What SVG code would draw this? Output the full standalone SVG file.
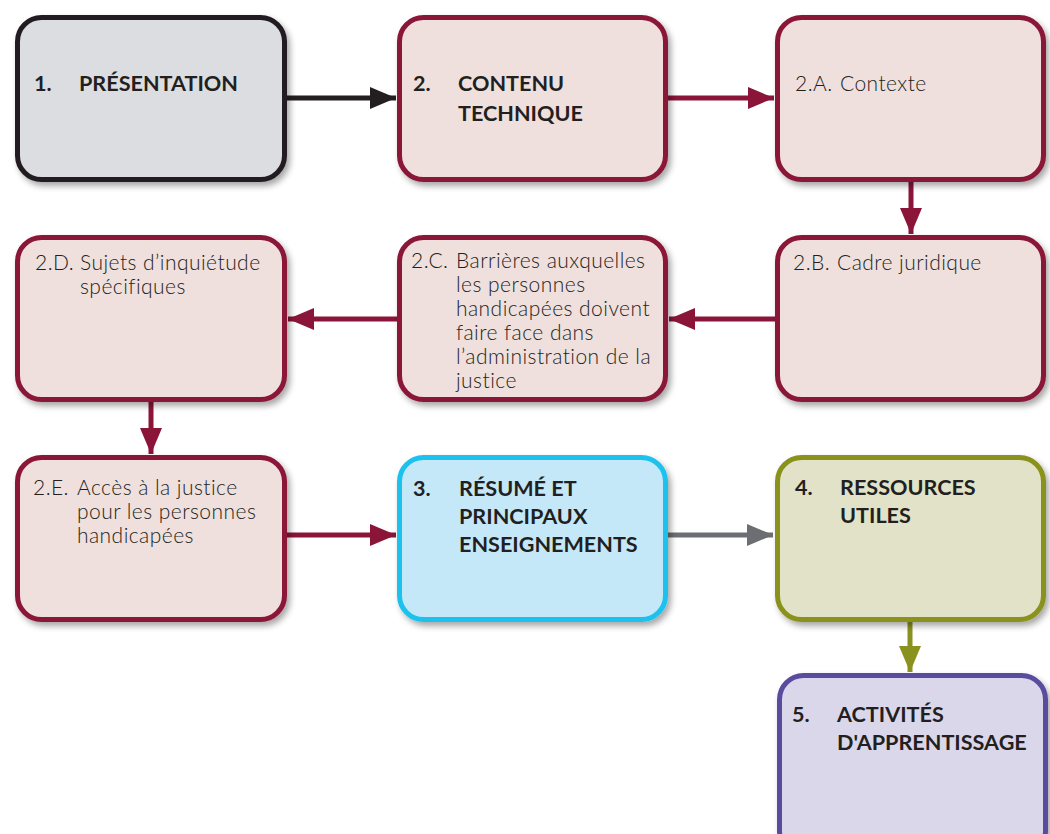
<svg xmlns="http://www.w3.org/2000/svg" width="1050" height="834" viewBox="0 0 1050 834">
  <defs>
    <filter id="shadow" x="-10%" y="-10%" width="125%" height="130%">
      <feDropShadow dx="3" dy="4" stdDeviation="3" flood-color="#000" flood-opacity="0.35"/>
    </filter>
    <marker id="head-black" viewBox="0 0 26 22" refX="26" refY="11" markerWidth="26" markerHeight="22" markerUnits="userSpaceOnUse" orient="auto">
      <path d="M0,0 L26,11 L0,22 z" fill="#231f20"/>
    </marker>
    <marker id="head-maroon" viewBox="0 0 26 22" refX="26" refY="11" markerWidth="26" markerHeight="22" markerUnits="userSpaceOnUse" orient="auto">
      <path d="M0,0 L26,11 L0,22 z" fill="#8a1538"/>
    </marker>
    <marker id="head-gray" viewBox="0 0 26 22" refX="26" refY="11" markerWidth="26" markerHeight="22" markerUnits="userSpaceOnUse" orient="auto">
      <path d="M0,0 L26,11 L0,22 z" fill="#6d6e71"/>
    </marker>
    <marker id="head-olive" viewBox="0 0 26 22" refX="26" refY="11" markerWidth="26" markerHeight="22" markerUnits="userSpaceOnUse" orient="auto">
      <path d="M0,0 L26,11 L0,22 z" fill="#8a921f"/>
    </marker>
  </defs>
  <style>
    .box { stroke-width: 5; filter: url(#shadow); }
    .intro { fill: #dcdde0; stroke: #231f20; }
    .content { fill: #efdfdd; stroke: #8a1538; }
    .summary { fill: #c4e8f8; stroke: #1fc1ee; }
    .resources { fill: #e1e2c7; stroke: #8a921f; }
    .activities { fill: #dbd7ea; stroke: #5a4c9f; }
    .title { font-family: Lato, "Open Sans", "Liberation Sans", sans-serif; font-weight: 700; font-size: 21.6px; fill: #231f20; }
    .item { font-family: Lato, "Open Sans", "Liberation Sans", sans-serif; font-weight: 300; font-size: 21px; letter-spacing: 0.45px; fill: #231f20; }
    .link { fill: none; stroke-width: 5; }
    .black { stroke: #231f20; marker-end: url(#head-black); }
    .maroon { stroke: #8a1538; marker-end: url(#head-maroon); }
    .gray { stroke: #6d6e71; marker-end: url(#head-gray); }
    .olive { stroke: #8a921f; marker-end: url(#head-olive); }
  </style>

  <rect width="1050" height="834" fill="#ffffff"/>

  <!-- connectors -->
  <g id="connectors">
    <line class="link black" x1="287" y1="98" x2="396" y2="98"/>
    <line class="link maroon" x1="668" y1="98" x2="774" y2="98"/>
    <line class="link maroon" x1="911" y1="182" x2="911" y2="234"/>
    <line class="link maroon" x1="775" y1="319" x2="669" y2="319"/>
    <line class="link maroon" x1="397" y1="319" x2="288" y2="319"/>
    <line class="link maroon" x1="151" y1="402" x2="151" y2="454"/>
    <line class="link maroon" x1="287" y1="535" x2="396" y2="535"/>
    <line class="link gray" x1="668" y1="535" x2="773" y2="535"/>
    <line class="link olive" x1="910" y1="622" x2="910" y2="672"/>
  </g>

  <!-- row 1 -->
  <g id="node-1">
    <rect class="box intro" x="17.5" y="17.5" width="267" height="162" rx="24"/>
    <text class="title" x="34" y="91">1.</text>
    <text class="title" x="79" y="91">PRÉSENTATION</text>
  </g>
  <g id="node-2">
    <rect class="box content" x="399.5" y="17.5" width="266" height="162" rx="24"/>
    <text class="title" x="413" y="91">2.</text>
    <text class="title" x="458" y="91">CONTENU</text>
    <text class="title" x="458" y="121">TECHNIQUE</text>
  </g>
  <g id="node-2a">
    <rect class="box content" x="777.5" y="17.5" width="266" height="162" rx="24"/>
    <text class="item" x="795" y="91">2.A.</text>
    <text class="item" x="840" y="91">Contexte</text>
  </g>

  <!-- row 2 -->
  <g id="node-2d">
    <rect class="box content" x="17.5" y="237.5" width="267" height="162" rx="24"/>
    <text class="item" x="35" y="270">2.D.</text>
    <text class="item" x="80" y="270">Sujets d’inquiétude</text>
    <text class="item" x="80" y="294">spécifiques</text>
  </g>
  <g id="node-2c">
    <rect class="box content" x="399.5" y="237.5" width="266" height="162" rx="24"/>
    <text class="item" x="411" y="268">2.C.</text>
    <text class="item" x="456" y="268">Barrières auxquelles</text>
    <text class="item" x="456" y="292">les personnes</text>
    <text class="item" x="456" y="316">handicapées doivent</text>
    <text class="item" x="456" y="340">faire face dans</text>
    <text class="item" x="456" y="364">l’administration de la</text>
    <text class="item" x="456" y="388">justice</text>
  </g>
  <g id="node-2b">
    <rect class="box content" x="777.5" y="237.5" width="266" height="162" rx="24"/>
    <text class="item" x="793" y="270">2.B.</text>
    <text class="item" x="837" y="270">Cadre juridique</text>
  </g>

  <!-- row 3 -->
  <g id="node-2e">
    <rect class="box content" x="17.5" y="457.5" width="267" height="162" rx="24"/>
    <text class="item" x="33" y="495">2.E.</text>
    <text class="item" x="77" y="495">Accès à la justice</text>
    <text class="item" x="77" y="519">pour les personnes</text>
    <text class="item" x="77" y="543">handicapées</text>
  </g>
  <g id="node-3">
    <rect class="box summary" x="399.5" y="457.5" width="266" height="162" rx="24"/>
    <text class="title" x="413" y="496">3.</text>
    <text class="title" x="459" y="496">RÉSUMÉ ET</text>
    <text class="title" x="459" y="524">PRINCIPAUX</text>
    <text class="title" x="459" y="552">ENSEIGNEMENTS</text>
  </g>
  <g id="node-4">
    <rect class="box resources" x="777.5" y="457.5" width="266" height="162" rx="24"/>
    <text class="title" x="795" y="495">4.</text>
    <text class="title" x="840" y="495">RESSOURCES</text>
    <text class="title" x="840" y="523">UTILES</text>
  </g>

  <!-- row 4 -->
  <g id="node-5">
    <rect class="box activities" x="779.5" y="675.5" width="266" height="180" rx="24"/>
    <text class="title" x="792" y="722">5.</text>
    <text class="title" x="837" y="722">ACTIVITÉS</text>
    <text class="title" x="837" y="750">D'APPRENTISSAGE</text>
  </g>
</svg>
